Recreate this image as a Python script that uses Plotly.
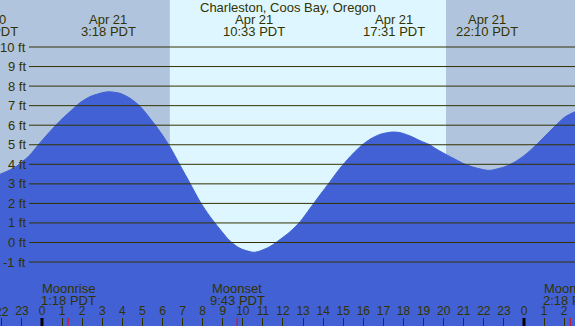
import plotly.graph_objects as go

# ---------------- data ----------------
TITLE = "Charleston, Coos Bay, Oregon"

# time in hours relative to Apr 21 00:00 PDT, tide height in ft
TIME_H = [-2.09, -1.34, -0.60, -0.10, 0.40, 0.90, 1.39, 1.89, 2.39, 2.89, 3.29,
          3.88, 4.38, 4.88, 5.38, 5.88, 6.37, 6.87, 7.37, 7.87, 8.37, 8.86,
          9.36, 9.86, 10.36, 10.56, 10.86, 11.35, 11.85, 12.35, 12.85, 13.35,
          13.84, 14.34, 14.84, 15.34, 15.84, 16.33, 16.83, 17.33, 17.53, 17.83,
          18.33, 18.82, 19.32, 19.57, 20.07, 20.57, 21.07, 21.56, 22.06, 22.31,
          22.56, 23.06, 23.56, 24.05, 24.55, 25.05, 25.55, 26.05, 26.54]
HEIGHT_FT = [3.49, 3.85, 4.48, 5.10, 5.68, 6.23, 6.69, 7.15, 7.46, 7.63, 7.71,
             7.63, 7.38, 6.97, 6.35, 5.67, 4.90, 3.96, 3.03, 2.09, 1.32, 0.68,
             0.08, -0.30, -0.47, -0.50, -0.43, -0.21, 0.15, 0.55, 1.06, 1.75,
             2.43, 3.11, 3.80, 4.39, 4.90, 5.28, 5.53, 5.64, 5.65, 5.62,
             5.45, 5.21, 4.99, 4.82, 4.53, 4.26, 4.00, 3.83, 3.71, 3.69,
             3.74, 3.88, 4.13, 4.48, 4.94, 5.45, 5.96, 6.43, 6.69]

# tide extremes: day offset (relative to Apr 21), date label, time label
EXT_DAY = [-1, 0, 0, 0, 0]
EXT_DATE = ["Apr 20", "Apr 21", "Apr 21", "Apr 21", "Apr 21"]
EXT_TIME = ["21:16", "3:18", "10:33", "17:31", "22:10"]

# moon events
MOON_DAY = [0, 0, 1]
MOON_NAME = ["Moonrise", "Moonset", "Moonrise"]
MOON_TIME = ["1:18", "9:43", "2:18"]

# daylight
SUNRISE = "6:22"
SUNSET = "20:07"

# axis values
FT_TICKS = [10, 9, 8, 7, 6, 5, 4, 3, 2, 1, 0, -1]
HOUR_TICKS = list(range(-2, 27))
HOUR_LABELS = [str(h % 24) for h in HOUR_TICKS]
MIDNIGHTS = [0, 24]

# ---------------- styling / layout ----------------
W, H = 575, 326
X_RANGE = [-2.091, 26.54]
Y_RANGE = [-4.271, 12.404]
NIGHT = "#B0C4DE"
DAY = "#DEF6FF"
BLUE = "#4161D5"
TXT = "#333300"
FONT = "Liberation Sans"


def hours(day, t):
    hh, mm = t.split(":")
    return day * 24 + int(hh) + int(mm) / 60.0


def xpaper(h):
    return (h - X_RANGE[0]) / (X_RANGE[1] - X_RANGE[0])


fig = go.Figure()

# base for the fill
fig.add_trace(go.Scatter(x=X_RANGE, y=[Y_RANGE[0] - 1] * 2, mode="lines",
                         line=dict(width=0, color=BLUE), hoverinfo="skip",
                         showlegend=False))
fig.add_trace(go.Scatter(x=TIME_H, y=HEIGHT_FT, mode="lines",
                         line=dict(color=BLUE, width=1, shape="spline", smoothing=0.8),
                         fill="tonexty", fillcolor=BLUE, hoverinfo="skip",
                         showlegend=False))

shapes = []
# daylight band
shapes.append(dict(type="rect", xref="x", yref="paper",
                   x0=hours(0, SUNRISE), x1=hours(0, SUNSET), y0=0, y1=1,
                   fillcolor=DAY, line=dict(width=0), layer="below"))
# horizontal grid lines (drawn above the fill)
for v in FT_TICKS:
    shapes.append(dict(type="line", xref="paper", yref="y",
                       x0=29 / W, x1=1, y0=v, y1=v,
                       line=dict(color=TXT, width=1), layer="above"))
# midnight ticks
for m in MIDNIGHTS:
    shapes.append(dict(type="line", xref="x", yref="paper", x0=m, x1=m,
                       y0=0, y1=8 / H, line=dict(color="#000000", width=3),
                       layer="above"))
# moon event ticks
for d, t in zip(MOON_DAY, MOON_TIME):
    xm = hours(d, t)
    shapes.append(dict(type="line", xref="x", yref="paper", x0=xm, x1=xm,
                       y0=0, y1=8 / H, line=dict(color="#FF0000", width=1),
                       layer="above"))

ann = []
ann.append(dict(text=TITLE, xref="paper", yref="paper", x=0.5, y=1 - 8 / H,
                xanchor="center", yanchor="middle", showarrow=False,
                font=dict(family=FONT, size=13, color=TXT)))
for d, dl, t in zip(EXT_DAY, EXT_DATE, EXT_TIME):
    xe = xpaper(hours(d, t))
    ann.append(dict(text=dl, xref="paper", yref="paper", x=xe, y=1 - 19 / H,
                    xanchor="center", yanchor="middle", showarrow=False,
                    font=dict(family=FONT, size=13, color=TXT)))
    ann.append(dict(text=t + " PDT", xref="paper", yref="paper", x=xe, y=1 - 31 / H,
                    xanchor="center", yanchor="middle", showarrow=False,
                    font=dict(family=FONT, size=13, color=TXT)))
for d, n, t in zip(MOON_DAY, MOON_NAME, MOON_TIME):
    xm = xpaper(hours(d, t))
    ann.append(dict(text=n, xref="paper", yref="paper", x=xm, y=1 - 288 / H,
                    xanchor="center", yanchor="middle", showarrow=False,
                    font=dict(family=FONT, size=13, color=TXT)))
    ann.append(dict(text=t + " PDT", xref="paper", yref="paper", x=xm, y=1 - 300 / H,
                    xanchor="center", yanchor="middle", showarrow=False,
                    font=dict(family=FONT, size=13, color=TXT)))
for v in FT_TICKS:
    ann.append(dict(text=f"{v} ft", xref="paper", yref="y", x=28 / W, y=v,
                    xanchor="right", yanchor="middle", showarrow=False,
                    font=dict(family=FONT, size=13, color=TXT)))
# first hour label, which the axis drops because it overflows the left edge
ann.append(dict(text=HOUR_LABELS[0], xref="paper", yref="paper",
                x=xpaper(HOUR_TICKS[0]), y=1 - 312 / H,
                xanchor="center", yanchor="middle", showarrow=False,
                font=dict(family=FONT, size=12, color=TXT)))

fig.update_layout(
    width=W, height=H, margin=dict(l=0, r=0, t=0, b=0),
    paper_bgcolor=NIGHT, plot_bgcolor=NIGHT, showlegend=False,
    shapes=shapes, annotations=ann,
    xaxis=dict(range=X_RANGE, tickmode="array", tickvals=HOUR_TICKS,
               ticktext=HOUR_LABELS, ticks="inside", ticklen=8, tickwidth=1,
               tickcolor=TXT, ticklabelposition="inside",
               tickfont=dict(family=FONT, size=12, color=TXT),
               showgrid=False, zeroline=False, showline=False, fixedrange=True),
    yaxis=dict(range=Y_RANGE, visible=False, showgrid=False, zeroline=False,
               fixedrange=True),
)

fig.write_html("out.html", config={"displayModeBar": False},
               post_script="document.body.style.margin='0';"
                           "document.body.style.overflow='hidden';"
                           "document.documentElement.style.overflow='hidden';")
